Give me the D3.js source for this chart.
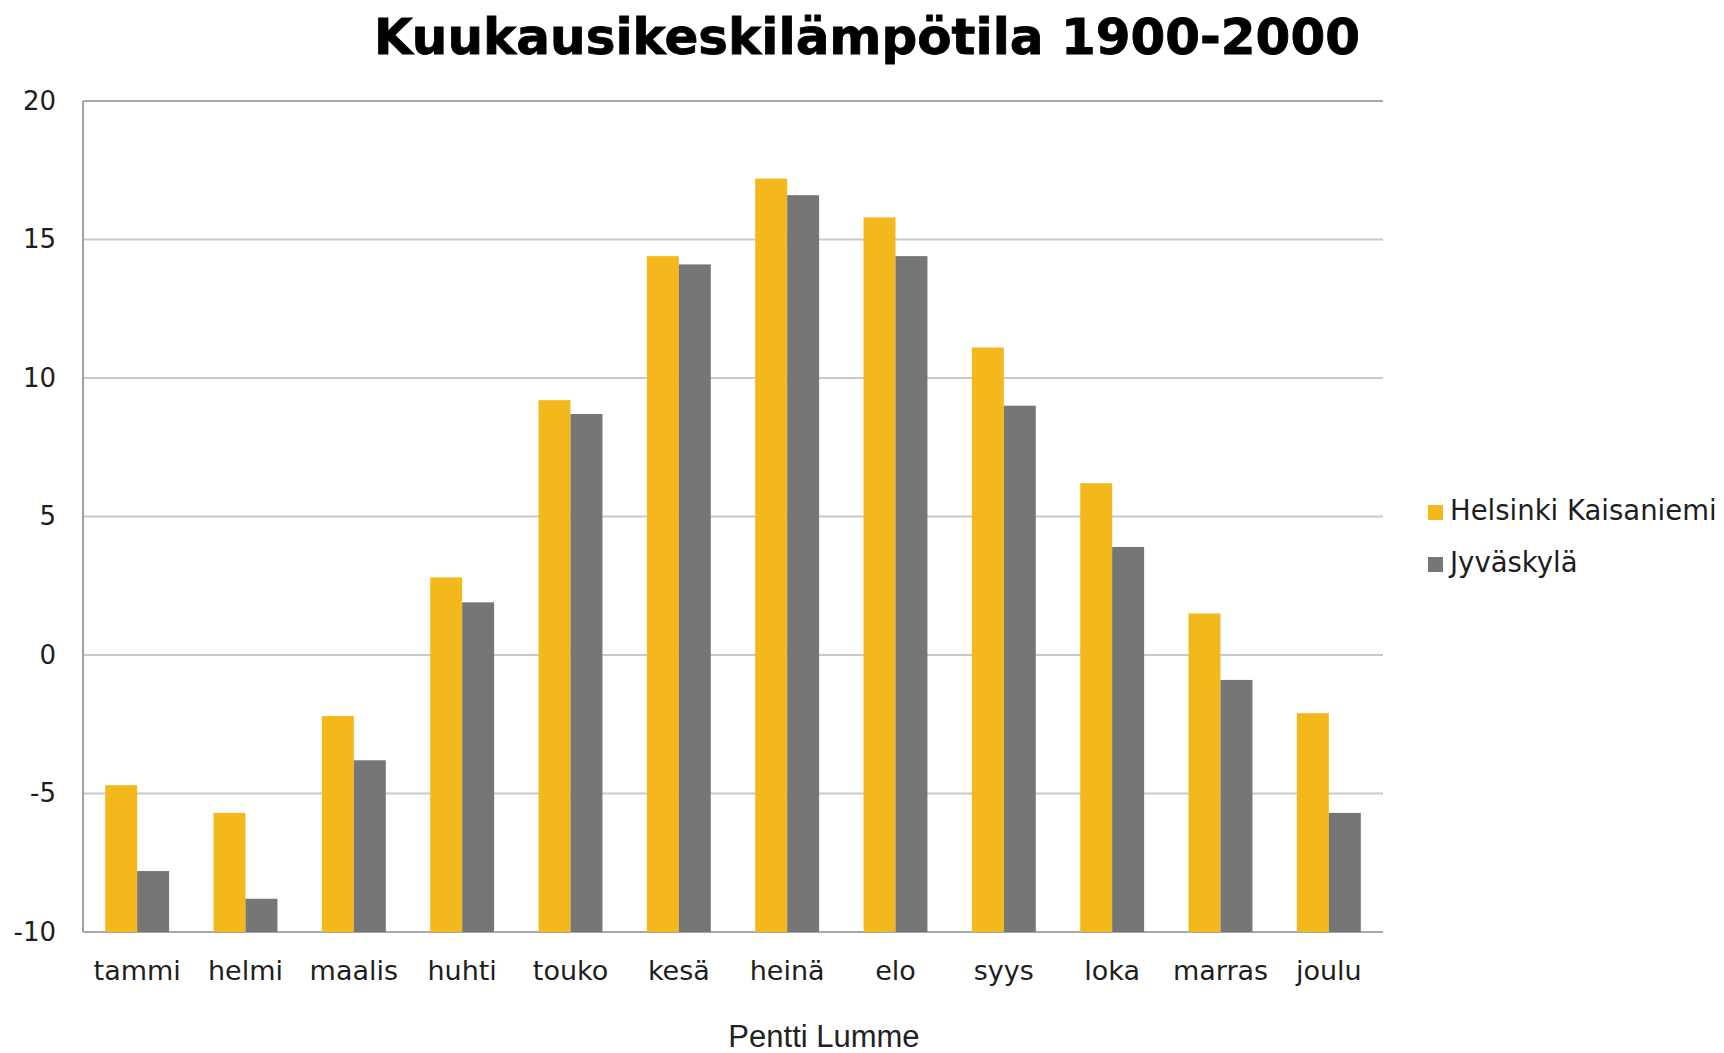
<!DOCTYPE html>
<html>
<head>
<meta charset="utf-8">
<script src="https://cdn.jsdelivr.net/npm/d3@7"></script>
<style>
  html, body { margin: 0; padding: 0; background: #ffffff; }
  svg { display: block; }
</style>
</head>
<body>
<svg id="chart" width="1724" height="1053"></svg>
<script>
// Monthly mean temperatures 1900–2000 (°C)
const months = ["tammi", "helmi", "maalis", "huhti", "touko", "kesä", "heinä", "elo", "syys", "loka", "marras", "joulu"];
const seriesNames = ["Helsinki Kaisaniemi", "Jyväskylä"];
const helsinki = [-4.7, -5.7, -2.2, 2.8, 9.2, 14.4, 17.2, 15.8, 11.1, 6.2, 1.5, -2.1];
const jyvaskyla = [-7.8, -8.8, -3.8, 1.9, 8.7, 14.1, 16.6, 14.4, 9.0, 3.9, -0.9, -5.7];
const yTicks = [-10, -5, 0, 5, 10, 15, 20];
const seriesColors = ["#F2B81C", "#767676"];

const svg = d3.select("#chart");
const plot = { left: 83, top: 101, right: 1383, bottom: 932 };

const x = d3.scaleBand()
  .domain(months)
  .range([plot.left, plot.right])
  .paddingInner(0.41)
  .paddingOuter(0.205);

const xInner = d3.scaleBand()
  .domain(seriesNames)
  .range([0, x.bandwidth()]);

const y = d3.scaleLinear()
  .domain([-10, 20])
  .range([plot.bottom, plot.top]);

const color = d3.scaleOrdinal().domain(seriesNames).range(seriesColors);

// Horizontal gridlines
svg.append("g")
  .selectAll("line")
  .data(yTicks)
  .join("line")
  .attr("x1", plot.left)
  .attr("x2", plot.right)
  .attr("y1", d => y(d))
  .attr("y2", d => y(d))
  .attr("stroke", d => (d === 20 || d === -10) ? "#a8a8a8" : "#c9c9c9")
  .attr("stroke-width", 2);

// Bars
const rows = months.map((m, i) => ({ month: m, values: [helsinki[i], jyvaskyla[i]] }));
svg.append("g")
  .selectAll("g")
  .data(rows)
  .join("g")
  .attr("transform", d => `translate(${x(d.month)},0)`)
  .selectAll("rect")
  .data(d => d.values.map((v, k) => ({ name: seriesNames[k], value: v })))
  .join("rect")
  .attr("x", d => xInner(d.name))
  .attr("width", xInner.bandwidth())
  .attr("y", d => y(d.value))
  .attr("height", d => y(-10) - y(d.value))
  .attr("fill", d => color(d.name));

// Left axis line
svg.append("line")
  .attr("x1", plot.left).attr("x2", plot.left)
  .attr("y1", plot.top).attr("y2", plot.bottom)
  .attr("stroke", "#a0a0a0")
  .attr("stroke-width", 2);

// Y tick labels (plain hyphen for negatives)
const yAxis = d3.axisLeft(y).tickValues(yTicks).tickSize(0).tickPadding(0).tickFormat(d => String(d));
const gy = svg.append("g").attr("transform", `translate(56,0)`).call(yAxis);
gy.select(".domain").remove();
gy.selectAll("text")
  .attr("font-family", "DejaVu Sans, Verdana, sans-serif")
  .attr("font-size", 26)
  .attr("fill", "#1e1e1e");

// X category labels
const xAxis = d3.axisBottom(x).tickSize(0).tickPadding(0);
const gx = svg.append("g").attr("transform", `translate(0,${plot.bottom})`).call(xAxis);
gx.select(".domain").remove();
gx.selectAll("text")
  .attr("font-family", "DejaVu Sans, Verdana, sans-serif")
  .attr("font-size", 27)
  .attr("fill", "#1e1e1e")
  .attr("dy", null)
  .attr("y", 48);

// Title
svg.append("text")
  .attr("x", 867)
  .attr("y", 54)
  .attr("text-anchor", "middle")
  .attr("font-family", "DejaVu Sans, Verdana, sans-serif")
  .attr("font-weight", "bold")
  .attr("font-size", 49)
  .attr("textLength", 986)
  .attr("lengthAdjust", "spacingAndGlyphs")
  .attr("fill", "#000")
  .attr("stroke", "#000")
  .attr("stroke-width", 0.8)
  .text("Kuukausikeskilämpötila 1900-2000");

// Axis caption
svg.append("text")
  .attr("x", 824)
  .attr("y", 1047)
  .attr("text-anchor", "middle")
  .attr("font-family", "Liberation Sans, Arial, sans-serif")
  .attr("font-size", 31)
  .attr("fill", "#222")
  .text("Pentti Lumme");

// Legend
const legend = svg.append("g")
  .selectAll("g")
  .data(seriesNames)
  .join("g")
  .attr("transform", (d, i) => `translate(1428,${505 + i * 52})`);
legend.append("rect")
  .attr("width", 15).attr("height", 15)
  .attr("fill", d => color(d));
legend.append("text")
  .attr("x", 22)
  .attr("y", 15)
  .attr("font-family", "DejaVu Sans, Verdana, sans-serif")
  .attr("font-size", 27.5)
  .attr("fill", "#1e1e1e")
  .text(d => d);
</script>
</body>
</html>
